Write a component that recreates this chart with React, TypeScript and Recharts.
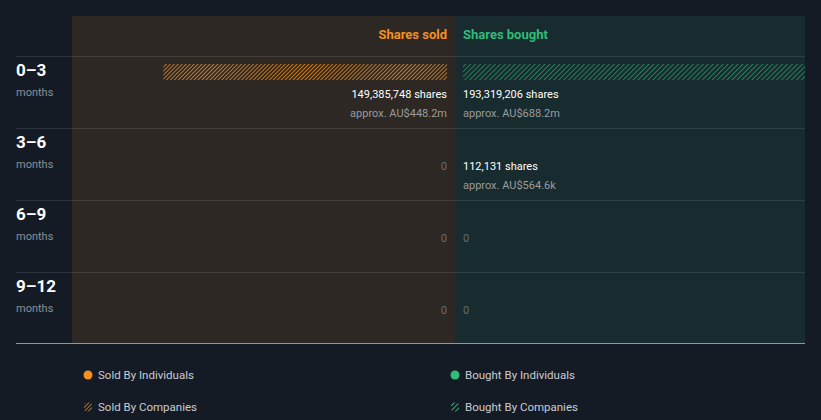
import React from "react"
import { BarChart, Bar, XAxis, YAxis, LabelList } from "recharts"

const periods = ["0–3", "3–6", "6–9", "9–12"]
const soldShares = [149385748, 0, 0, 0]
const boughtShares = [193319206, 112131, 0, 0]
const soldApprox = ["AU$448.2m", "", "", ""]
const boughtApprox = ["AU$688.2m", "AU$564.6k", "", ""]

const legendItems = [
  { label: "Sold By Individuals", color: "#f5901e", hatched: false },
  { label: "Bought By Individuals", color: "#2ebd7a", hatched: false },
  { label: "Sold By Companies", color: "#f5901e", hatched: true },
  { label: "Bought By Companies", color: "#2ebd7a", hatched: true },
]

const rows = periods.map((p, i) => ({
  period: p,
  idx: i,
  sold: soldShares[i],
  bought: boughtShares[i],
}))

const maxShares = Math.max(...soldShares, ...boughtShares)

const FONT = "Roboto, 'Noto Sans', sans-serif"
const ORANGE = "#f5901e"
const GREEN = "#2ebd7a"

const fmt = (n: number) => n.toLocaleString("en-US")

function hatchShape(fill: string) {
  return (props: any) => {
    const { x, y, width, height } = props
    const w = Math.abs(width)
    // sub-pixel bars don't show up in the original
    if (!w || w < 0.5) return <g />
    const left = Math.min(x, x + width)
    // bar sits near the top of its row, the figures go underneath
    return <rect x={left} y={y - 20} width={w} height={height} fill={fill} />
  }
}

function PeriodTick(props: any) {
  const { y, payload } = props
  return (
    <g>
      <text x={0} y={y - 16} fill="#ffffff" fontSize={17} fontWeight={700} fontFamily={FONT}>
        {payload.value}
      </text>
      <text x={0} y={y + 4} fill="#8b9098" fontSize={11} fontFamily={FONT}>
        months
      </text>
    </g>
  )
}

function figureLabel(side: "sold" | "bought") {
  return (props: any) => {
    const { x, y, width, value } = props
    const i = Number(value)
    const shares = side === "sold" ? soldShares[i] : boughtShares[i]
    const approx = side === "sold" ? soldApprox[i] : boughtApprox[i]
    const anchorX = side === "sold" ? Math.max(x, x + width) : Math.min(x, x + width)
    const anchor = side === "sold" ? "end" : "start"
    if (!shares) {
      return (
        <text x={anchorX} y={y + 14} textAnchor={anchor} fill="#6b6d70" fontSize={11} fontFamily={FONT}>
          0
        </text>
      )
    }
    return (
      <g>
        <text x={anchorX} y={y + 14} textAnchor={anchor} fill="#ffffff" fontSize={11} fontFamily={FONT}>
          {fmt(shares)} shares
        </text>
        <text x={anchorX} y={y + 33} textAnchor={anchor} fill="#9a9c9e" fontSize={11} fontFamily={FONT}>
          approx. {approx}
        </text>
      </g>
    )
  }
}

export default function App() {
  const rowLines = [56, 128, 200, 272]
  return (
    <div
      style={{
        position: "absolute",
        left: 0,
        top: 0,
        width: 821,
        height: 420,
        background: "#151b25",
        fontFamily: FONT,
        overflow: "hidden",
      }}
    >
      <svg width={821} height={420} style={{ position: "absolute", left: 0, top: 0 }}>
        <defs>
          <pattern id="legSold" width="2.8" height="2.8" patternUnits="userSpaceOnUse" patternTransform="rotate(45)">
            <line x1="0" y1="0" x2="0" y2="2.8" stroke={ORANGE} strokeWidth="1.5" />
          </pattern>
          <pattern id="legBought" width="3.5" height="3.5" patternUnits="userSpaceOnUse" patternTransform="rotate(45)">
            <line x1="0" y1="0" x2="0" y2="3.5" stroke={GREEN} strokeWidth="1.8" />
          </pattern>
        </defs>
        <rect x={72} y={16} width={383} height={327} fill="#2d2823" />
        <rect x={455} y={16} width={350} height={327} fill="#182b2e" />
        {rowLines.map((ly) => (
          <line key={ly} x1={16} x2={805} y1={ly + 0.5} y2={ly + 0.5} stroke="#ffffff" strokeOpacity={0.1} />
        ))}
        <line x1={16} x2={805} y1={343.5} y2={343.5} stroke="#8e989e" />
        <text x={447} y={39} textAnchor="end" fill={ORANGE} fontSize={13} fontWeight={700} fontFamily={FONT}>
          Shares sold
        </text>
        <text x={463} y={39} fill={GREEN} fontSize={13} fontWeight={700} fontFamily={FONT}>
          Shares bought
        </text>
        {legendItems.map((item, i) => {
          const cx = i % 2 === 0 ? 88 : 455
          const cy = i < 2 ? 375 : 407
          return (
            <g key={item.label}>
              {item.hatched ? (
                <rect
                  x={cx - 4}
                  y={cy - 4.5}
                  width={8}
                  height={9}
                  rx={3}
                  fill={item.color === ORANGE ? "url(#legSold)" : "url(#legBought)"}
                />
              ) : (
                <circle cx={cx} cy={cy} r={4.5} fill={item.color} />
              )}
              <text x={cx + 10} y={cy + 4} fill="#c9ccd1" fontSize={11.5} fontFamily={FONT}>
                {item.label}
              </text>
            </g>
          )
        })}
      </svg>

      <div style={{ position: "absolute", left: 16, top: 0 }}>
        <BarChart width={439} height={344} data={rows} layout="vertical" margin={{ top: 56, right: 8, bottom: 0, left: 0 }}>
          <defs>
            <pattern id="soldHatch" width="2.8" height="2.8" patternUnits="userSpaceOnUse" patternTransform="rotate(45)">
              <line x1="0" y1="0" x2="0" y2="2.8" stroke={ORANGE} strokeWidth="1.5" />
            </pattern>
          </defs>
          <XAxis type="number" hide reversed domain={[0, maxShares]} />
          <YAxis type="category" dataKey="period" width={64} axisLine={false} tickLine={false} tick={<PeriodTick />} />
          <Bar dataKey="sold" barSize={16} isAnimationActive={false} shape={hatchShape("url(#soldHatch)")}>
            <LabelList dataKey="idx" content={figureLabel("sold")} />
          </Bar>
        </BarChart>
      </div>

      <div style={{ position: "absolute", left: 455, top: 0 }}>
        <BarChart width={350} height={344} data={rows} layout="vertical" margin={{ top: 56, right: 0, bottom: 0, left: 8 }}>
          <defs>
            <pattern id="boughtHatch" width="3.5" height="3.5" patternUnits="userSpaceOnUse" patternTransform="rotate(45)">
              <line x1="0" y1="0" x2="0" y2="3.5" stroke="#26875f" strokeWidth="1.8" />
            </pattern>
          </defs>
          <XAxis type="number" hide domain={[0, maxShares]} />
          <YAxis type="category" dataKey="period" hide />
          <Bar dataKey="bought" barSize={16} isAnimationActive={false} shape={hatchShape("url(#boughtHatch)")}>
            <LabelList dataKey="idx" content={figureLabel("bought")} />
          </Bar>
        </BarChart>
      </div>
    </div>
  )
}
